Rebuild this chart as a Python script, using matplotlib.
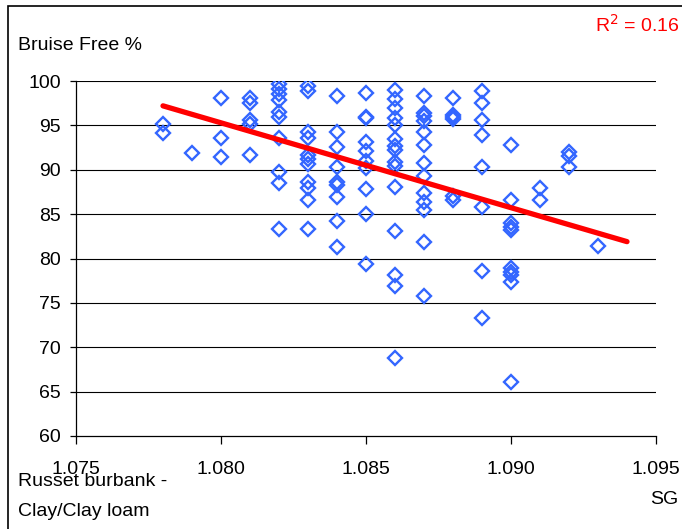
import matplotlib
matplotlib.use("Agg")
import matplotlib.pyplot as plt
from matplotlib.patches import Rectangle

plt.rcParams['font.family'] = ['Liberation Sans', 'DejaVu Sans']

# ---- data ----
sg_values = (
    [1.078] * 2 + [1.079] * 1 + [1.080] * 3 + [1.081] * 5 + [1.082] * 10 +
    [1.083] * 11 + [1.084] * 9 + [1.085] * 10 + [1.086] * 15 + [1.087] * 13 +
    [1.088] * 6 + [1.089] * 8 + [1.090] * 10 + [1.091] * 2 + [1.092] * 3 +
    [1.093] * 1
)
bruise_free = [
    95.1, 94.1,
    91.9,
    98.1, 93.6, 91.4,
    98.1, 97.5, 95.6, 95.1, 91.7,
    99.7, 99.1, 98.5, 97.9, 96.5, 95.9, 93.6, 89.7, 88.5, 83.3,
    99.4, 98.9, 94.3, 93.6, 91.7, 91.2, 90.7, 88.6, 88.0, 86.6, 83.3,
    98.3, 94.2, 92.6, 90.3, 88.6, 88.3, 86.9, 84.2, 81.3,
    98.6, 96.0, 95.8, 93.1, 92.1, 91.0, 90.2, 87.8, 85.0, 79.4,
    99.0, 98.0, 97.0, 95.8, 95.0, 93.5, 92.7, 92.2, 90.9, 90.4, 88.1, 83.1, 78.1, 76.9, 68.8,
    98.3, 96.4, 96.1, 95.5, 94.2, 92.8, 90.8, 89.3, 87.4, 86.4, 85.5, 81.9, 75.8,
    98.1, 96.2, 96.0, 95.7, 87.0, 86.6,
    98.9, 97.5, 95.6, 93.9, 90.3, 85.8, 78.6, 73.3,
    92.8, 86.6, 84.0, 83.6, 83.2, 78.9, 78.5, 78.1, 77.4, 66.1,
    88.0, 86.6,
    92.0, 91.5, 90.3,
    81.4,
]
trend_x = [1.078, 1.094]
trend_y = [97.2, 81.9]
r_squared = 0.16

x_ticks = [1.075, 1.080, 1.085, 1.090, 1.095]
x_tick_labels = ["1.075", "1.080", "1.085", "1.090", "1.095"]
y_ticks = [60, 65, 70, 75, 80, 85, 90, 95, 100]

W, H = 682, 529
fig = plt.figure(figsize=(W / 100, H / 100), dpi=100)
ax = fig.add_axes([76 / W, 1 - 436 / H, (656 - 76) / W, (436 - 81) / H])

for yv in y_ticks[1:]:
    ax.axhline(yv, color='black', lw=0.8, zorder=1)

ax.plot(sg_values, bruise_free, linestyle='none', marker='D', markersize=7.2,
        markerfacecolor='none', markeredgecolor='#3366FF', markeredgewidth=1.7,
        zorder=3)
ax.plot(trend_x, trend_y, color='#FF0000', lw=3.8, solid_capstyle='round', zorder=4)

ax.set_xlim(1.075, 1.095)
ax.set_ylim(60, 100)
ax.set_xticks(x_ticks)
ax.set_xticklabels(x_tick_labels)
ax.set_yticks(y_ticks)
ax.set_yticklabels([str(v) for v in y_ticks])
ax.tick_params(axis='x', direction='out', length=6, width=0.9, pad=12, labelsize=14)
ax.tick_params(axis='y', direction='out', length=4, width=0.9, pad=7, labelsize=14)
for s in ['top', 'right']:
    ax.spines[s].set_visible(False)
for s in ['left', 'bottom']:
    ax.spines[s].set_linewidth(0.9)
    ax.spines[s].set_color('black')

fig.text(18 / W, 1 - 46 / H, "Bruise Free %", fontsize=14, ha='left', va='center')
fig.text(680 / W, 1 - 25 / H, "R$^2$ = %.2f" % r_squared, fontsize=14, ha='right',
         va='center', color='#FF0000')
fig.text(18 / W, 1 - 482 / H, "Russet burbank -", fontsize=14, ha='left', va='center')
fig.text(18 / W, 1 - 511 / H, "Clay/Clay loam", fontsize=14, ha='left', va='center')
fig.text(678 / W, 1 - 500 / H, "SG", fontsize=14, ha='right', va='center')

fig.patches.append(Rectangle((7.5 / W, -0.1), 1.2, 1.1 - 6.5 / H, transform=fig.transFigure,
                             fill=False, edgecolor='black', lw=1.2))

fig.savefig("out.png", dpi=100)
